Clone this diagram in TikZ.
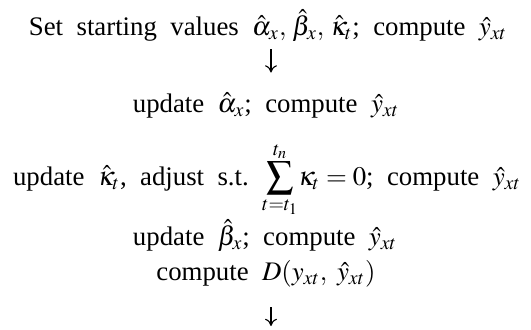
\documentclass[tikz,border=0pt]{standalone}
\usepackage{amsmath}
\usepackage{mathptmx}
\usepackage[no-math]{fontspec}
\setmainfont{Liberation Serif}
\usetikzlibrary{arrows.meta,positioning}

\begin{document}
\begin{tikzpicture}[
  x=0.5pt,y=-0.5pt,
  font=\fontsize{13.4}{16}\selectfont,
  stepline/.style={anchor=base,inner sep=0pt},
  arr/.style={-{To[length=3.6pt,width=6pt]},line width=0.55pt}
]
\useasboundingbox (0,0) rectangle (531,329);

\node[stepline] (init) at (268,35) {Set~~starting~~values~~$\hat{\alpha}_x,\,\hat{\beta}_x,\,\hat{\kappa}_t$;~~compute~~$\hat{y}_{xt}$};
\node[stepline] (alpha) at (266,112) {update~~$\hat{\alpha}_x$;~~compute~~$\hat{y}_{xt}$};
\node[stepline] (kappa) at (267,185) {update~~$\hat{\kappa}_t$,~~adjust~~s.t.~~$\displaystyle\sum_{t=t_1}^{t_n}\!\kappa_t=0$;~~compute~~$\hat{y}_{xt}$};
\node[stepline] (beta) at (265,245) {update~~$\hat{\beta}_x$;~~compute~~$\hat{y}_{xt}$};
\node[stepline] (dev) at (266,280) {compute~~$D(y_{xt},~\hat{y}_{xt})$};
\coordinate (next) at (271,326);

% iteration arrows
\draw[arr,shorten <=4pt,shorten >=10pt] (init.south -| next) -- (alpha.north -| next);
\draw[arr,shorten <=10pt] (dev.south -| next) -- (next);
\end{tikzpicture}
\end{document}
